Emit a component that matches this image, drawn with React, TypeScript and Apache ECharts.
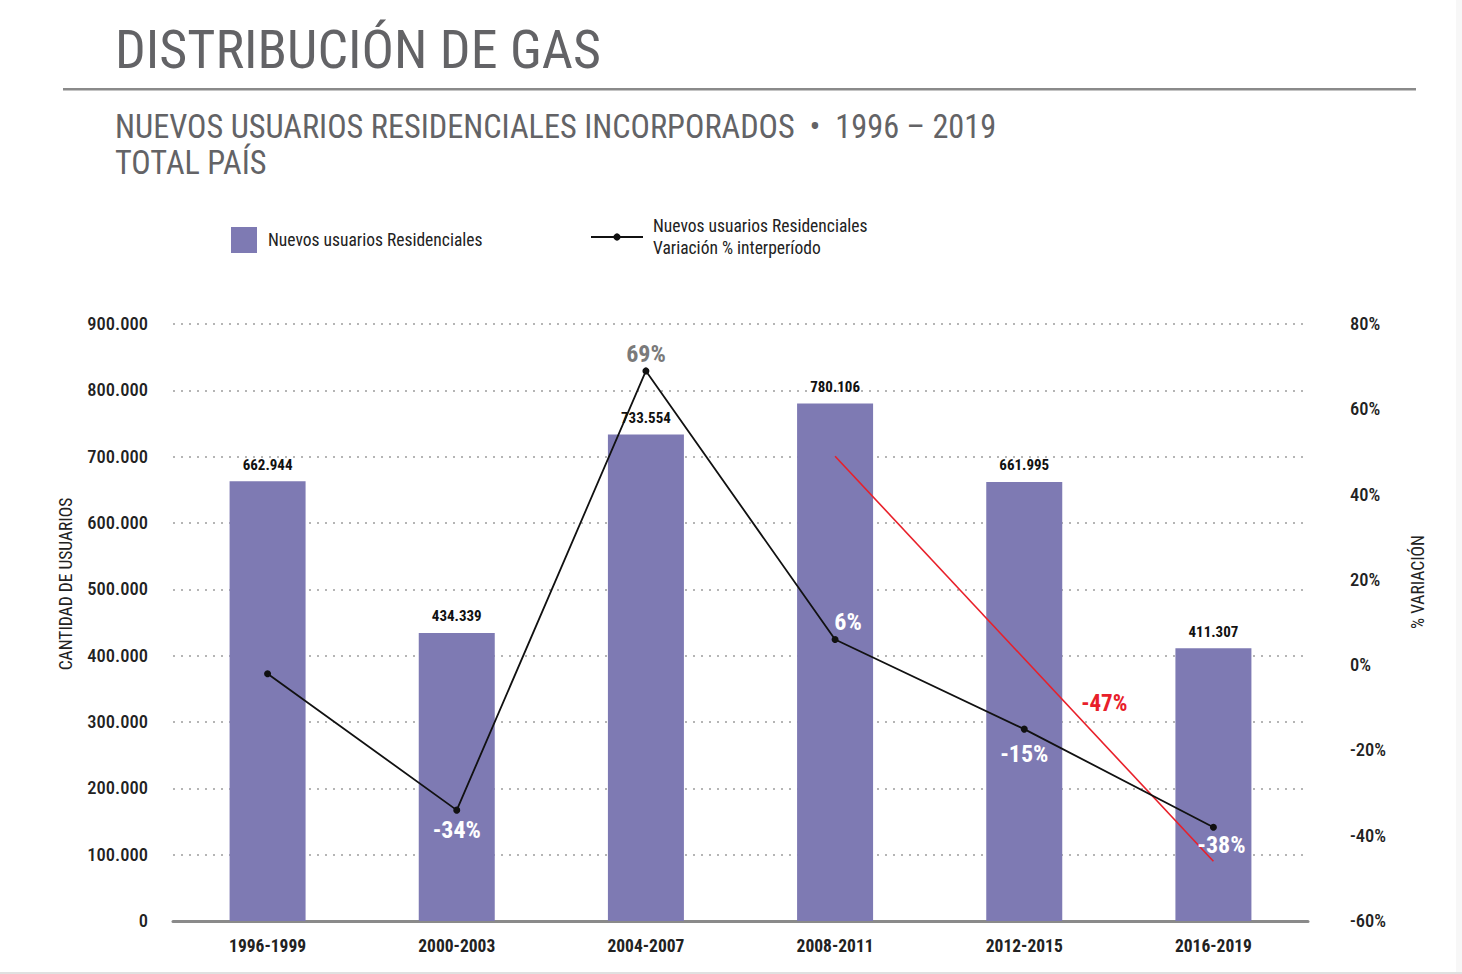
import React, { useEffect, useRef } from "react";
import * as echarts from "echarts";

const categories = ["1996-1999", "2000-2003", "2004-2007", "2008-2011", "2012-2015", "2016-2019"];
const newUsers = [662944, 434339, 733554, 780106, 661995, 411307];
const variation = [-2, -34, 69, 6, -15, -38];
const redTrend = ["-", "-", "-", 49, "-", -46];
const leftTicks = { min: 0, max: 900000, interval: 100000 };
const rightTicks = { min: -60, max: 80, interval: 20 };

const COND = "'Roboto Condensed', 'Liberation Sans Narrow', 'DejaVu Sans Condensed', Roboto, sans-serif";
const BAR_COLOR = "#7e7ab3";

const fmtThousands = (v: number) => String(Math.round(v)).replace(/\B(?=(\d{3})+(?!\d))/g, ".");

const varLabel = (i: number) => {
  const base = {
    show: true,
    formatter: (p: any) => `${p.value}%`,
    color: "#fff",
    fontSize: 24,
    fontWeight: "bold",
    fontFamily: COND,
  } as any;
  switch (i) {
    case 0:
      return { show: false };
    case 1:
      return { ...base, position: "bottom", distance: 4 };
    case 2:
      return { ...base, position: "top", distance: 1, color: "#7a7a7a" };
    case 3:
      return { ...base, position: "top", distance: 2, offset: [13, 0] };
    case 4:
      return { ...base, position: "bottom", distance: 9 };
    default:
      return { ...base, position: "bottom", distance: 2, offset: [8, 0] };
  }
};

export default function App() {
  const ref = useRef<HTMLDivElement>(null);
  useEffect(() => {
    if (!ref.current) return;
    const chart = echarts.init(ref.current, undefined, { renderer: "svg" });
    const subScale = 32.3 / 29;
    const option: any = {
      animation: false,
      backgroundColor: "#ffffff",
      textStyle: { fontFamily: COND },
      grid: { left: 173, right: 154, top: 324, bottom: 53, containLabel: false },
      legend: [
        {
          data: [{ name: "Nuevos usuarios Residenciales", icon: "rect" }],
          left: 226,
          top: 222,
          itemWidth: 26,
          itemHeight: 26,
          itemGap: 10,
          textStyle: { fontSize: 17.5, color: "#222", fontFamily: COND, padding: [0, 0, 0, 6] },
        },
        {
          data: ["Variación % interperíodo"],
          left: 585,
          top: 210,
          itemWidth: 52,
          itemHeight: 9,
          itemGap: 10,
          formatter: () => "Nuevos usuarios Residenciales\nVariación % interperíodo",
          textStyle: { fontSize: 17.5, color: "#222", fontFamily: COND, lineHeight: 22, padding: [0, 0, 0, 5] },
        },
      ],
      xAxis: {
        type: "category",
        data: categories,
        axisLine: { lineStyle: { color: "#8a8a8a", width: 3 } },
        axisTick: { show: false },
        axisLabel: { color: "#222", fontSize: 17.5, fontWeight: "bold", margin: 16, fontFamily: COND },
      },
      yAxis: [
        {
          type: "value",
          ...leftTicks,
          axisLine: { show: false },
          axisTick: { show: false },
          axisLabel: {
            formatter: (v: number) => fmtThousands(v),
            color: "#222",
            fontSize: 18.5,
            fontWeight: 500,
            margin: 25,
            fontFamily: COND,
          },
          splitLine: { lineStyle: { color: "#b5b5b5", type: [2, 6], width: 2 } },
        },
        {
          type: "value",
          ...rightTicks,
          position: "right",
          axisLine: { show: false },
          axisTick: { show: false },
          splitLine: { show: false },
          axisLabel: {
            formatter: (v: number) => `${v}%`,
            color: "#222",
            fontSize: 18.5,
            fontWeight: 500,
            margin: 42,
            fontFamily: COND,
          },
        },
      ],
      series: [
        {
          name: "Nuevos usuarios Residenciales",
          type: "bar",
          data: newUsers,
          barWidth: 76,
          itemStyle: { color: BAR_COLOR },
          label: {
            show: true,
            position: "top",
            distance: 9,
            formatter: (p: any) => fmtThousands(p.value),
            color: "#111",
            fontSize: 15,
            fontWeight: "bold",
            fontFamily: COND,
          },
        },
        {
          name: "Variación % interperíodo",
          type: "line",
          yAxisIndex: 1,
          data: variation.map((v, i) => ({ value: v, label: varLabel(i) })),
          symbol: "circle",
          symbolSize: 7,
          itemStyle: { color: "#111" },
          lineStyle: { color: "#111", width: 1.8 },
          z: 5,
        },
        {
          name: "Tendencia",
          type: "line",
          yAxisIndex: 1,
          data: redTrend,
          connectNulls: true,
          symbol: "none",
          lineStyle: { color: "#e8202a", width: 1.6 },
          z: 4,
          markPoint: {
            symbol: "circle",
            symbolSize: 0,
            data: [{ coord: ["2012-2015", -9], value: -47 }],
            label: {
              show: true,
              formatter: "-47%",
              color: "#e8202a",
              fontSize: 23,
              fontWeight: "bold",
              fontFamily: COND,
              offset: [80, 0],
            },
          },
        },
      ],
      graphic: [
        {
          type: "text",
          x: 115,
          y: 49,
          style: { text: "DISTRIBUCIÓN DE GAS", font: `54px ${COND}`, fill: "#636366", verticalAlign: "middle" },
        },
        {
          type: "rect",
          shape: { x: 63, y: 88, width: 1353, height: 2.5 },
          style: { fill: "#8a8a8a" },
        },
        {
          type: "text",
          x: 115,
          y: 127,
          scaleX: subScale,
          scaleY: subScale,
          style: {
            text: "NUEVOS USUARIOS RESIDENCIALES INCORPORADOS  •  1996 – 2019",
            font: `29px ${COND}`,
            fill: "#636366",
            verticalAlign: "middle",
          },
        },
        {
          type: "text",
          x: 115,
          y: 163,
          scaleX: subScale,
          scaleY: subScale,
          style: {
            text: "TOTAL PAÍS",
            font: `29px ${COND}`,
            fill: "#636366",
            verticalAlign: "middle",
          },
        },
        {
          type: "text",
          x: 66,
          y: 584,
          rotation: Math.PI / 2,
          style: {
            text: "CANTIDAD DE USUARIOS",
            font: `17.5px ${COND}`,
            fill: "#222",
            align: "center",
            verticalAlign: "middle",
          },
        },
        {
          type: "text",
          x: 1418,
          y: 582,
          rotation: Math.PI / 2,
          style: {
            text: "% VARIACIÓN",
            font: `17.5px ${COND}`,
            fill: "#222",
            align: "center",
            verticalAlign: "middle",
          },
        },
        {
          type: "rect",
          shape: { x: 1456, y: 0, width: 6, height: 974 },
          style: { fill: "#f7f7f7" },
        },
        {
          type: "rect",
          shape: { x: 0, y: 972, width: 1462, height: 2 },
          style: { fill: "#e0e0e0" },
        },
      ],
    };
    chart.setOption(option);
    return () => chart.dispose();
  }, []);
  return <div ref={ref} style={{ position: "fixed", left: 0, top: 0, width: 1462, height: 974 }} />;
}
